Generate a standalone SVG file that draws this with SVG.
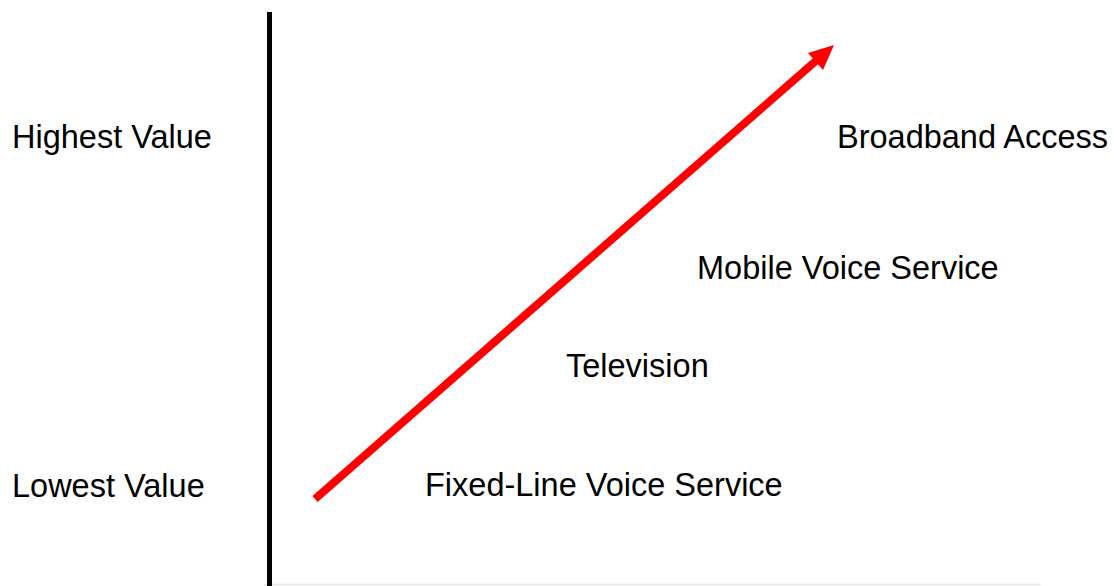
<svg xmlns="http://www.w3.org/2000/svg" width="1114" height="586" viewBox="0 0 1114 586">
<style>
.t{font-family:"Liberation Sans",Arial,sans-serif;font-size:32.5px;fill:#000}
</style>
<rect width="1114" height="586" fill="#fff"/>
<g id="axes">
<line x1="264" y1="584.5" x2="1041" y2="584.5" stroke="#e6e6e6" stroke-width="1.5"/>
<line x1="269.5" y1="12" x2="269.5" y2="586" stroke="#000" stroke-width="5"/>
</g>
<g id="connectors">
<line x1="315" y1="499" x2="818" y2="59" stroke="#ff0000" stroke-width="8"/>
<polygon points="834,45 808,53 823,70" fill="#ff0000"/>
</g>
<g id="label-highest"><text class="t" x="12" y="148">Highest Value</text></g>
<g id="label-lowest"><text class="t" x="12" y="497">Lowest Value</text></g>
<g id="node-broadband"><text class="t" x="837" y="148">Broadband Access</text></g>
<g id="node-mobile"><text class="t" x="697" y="279">Mobile Voice Service</text></g>
<g id="node-television"><text class="t" x="566" y="377">Television</text></g>
<g id="node-fixed"><text class="t" x="425" y="496">Fixed-Line Voice Service</text></g>
</svg>
